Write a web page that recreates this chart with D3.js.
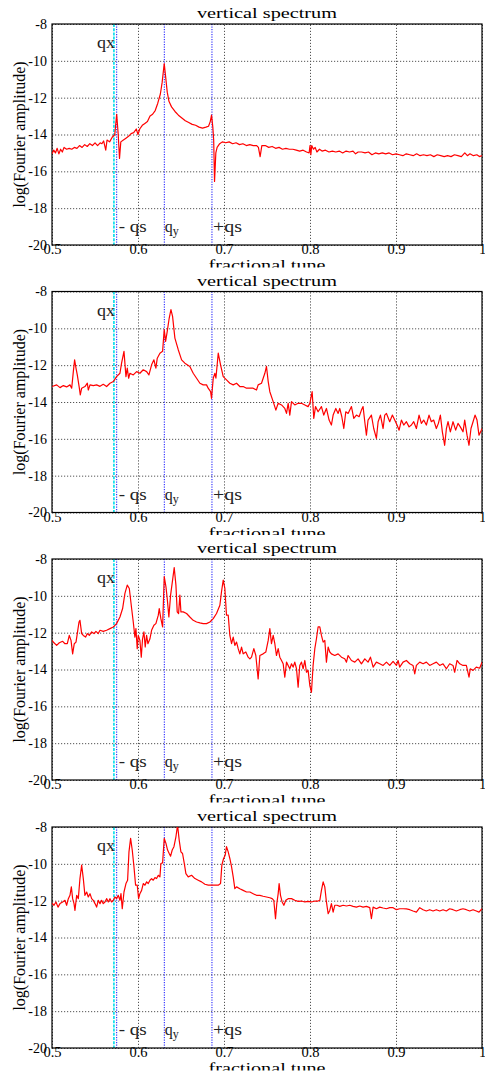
<!DOCTYPE html>
<html lang="en">
<head>
  <meta charset="UTF-8">
  <title>vertical spectrum</title>
  <style>
    body { margin: 0; background: #ffffff; }
    svg { display: block; font-family: "Liberation Serif", "DejaVu Serif", serif; }
    .grid line { stroke: #555; stroke-dasharray: 1.2,1.8; stroke-width: 1; }
    .grid .domain { display: none; }
    .grid text { fill: #000; }
  </style>
</head>
<body>
  <div id="chart"></div>

  <script src="https://d3js.org/d3.v7.min.js"></script>
  <script>
    // tick labels and marker tunes
    const tuneTicks = [0.5, 0.6, 0.7, 0.8, 0.9, 1.0];
    const ampTicks = [-20, -18, -16, -14, -12, -10, -8];
    const qxTune = 0.572;
    const lineTunes = [0.5752, 0.6306, 0.686];   // -qs, qy, +qs

    // [fractional tune, log(Fourier amplitude)]
    const spectrum1 = [
      [0.500,-15.05],[0.502,-14.85],[0.504,-15.0],[0.506,-14.75],[0.508,-15.05],[0.510,-14.8],[0.512,-14.95],
      [0.514,-14.7],[0.517,-14.8],[0.520,-14.75],[0.523,-14.8],[0.526,-14.7],[0.529,-14.75],[0.532,-14.6],
      [0.535,-14.7],[0.538,-14.55],[0.541,-14.65],[0.544,-14.5],[0.547,-14.6],[0.550,-14.45],[0.553,-14.6],
      [0.556,-14.45],[0.558,-14.5],[0.560,-14.35],[0.5625,-14.85],[0.564,-14.3],[0.567,-14.4],[0.570,-14.15],
      [0.573,-14.0],[0.5752,-12.9],[0.577,-14.0],[0.5785,-15.3],[0.580,-14.4],[0.583,-14.3],[0.586,-14.2],
      [0.589,-14.1],[0.592,-13.95],[0.595,-13.9],[0.598,-13.7],[0.600,-14.0],[0.602,-13.7],[0.605,-13.5],
      [0.608,-13.4],[0.611,-13.3],[0.614,-13.0],[0.617,-12.9],[0.620,-12.7],[0.623,-12.3],[0.626,-11.8],
      [0.628,-11.2],[0.6305,-10.15],[0.632,-10.8],[0.634,-11.7],[0.636,-12.2],[0.639,-12.5],[0.643,-12.75],
      [0.647,-12.95],[0.651,-13.1],[0.655,-13.25],[0.659,-13.35],[0.663,-13.45],[0.667,-13.5],[0.671,-13.6],
      [0.675,-13.65],[0.679,-13.6],[0.682,-13.55],[0.684,-13.3],[0.6855,-12.95],[0.687,-13.6],[0.688,-14.3],
      [0.689,-16.55],[0.6905,-15.0],[0.692,-14.7],[0.695,-14.5],[0.698,-14.4],[0.702,-14.45],[0.706,-14.4],
      [0.710,-14.5],[0.714,-14.45],[0.718,-14.55],[0.722,-14.5],[0.726,-14.6],[0.730,-14.55],[0.734,-14.6],
      [0.738,-14.6],[0.740,-14.7],[0.742,-15.2],[0.744,-14.6],[0.748,-14.6],[0.752,-14.7],[0.756,-14.65],
      [0.760,-14.75],[0.764,-14.7],[0.768,-14.8],[0.772,-14.75],[0.776,-14.8],[0.780,-14.8],[0.784,-14.85],
      [0.788,-14.9],[0.792,-14.85],[0.796,-14.95],[0.799,-15.0],[0.800,-14.6],[0.801,-15.1],[0.802,-14.6],
      [0.804,-14.8],[0.806,-14.7],[0.808,-14.95],[0.811,-14.8],[0.814,-14.9],[0.818,-14.85],[0.822,-14.95],
      [0.826,-14.9],[0.830,-14.95],[0.834,-14.9],[0.838,-15.0],[0.842,-14.9],[0.846,-14.95],[0.850,-14.9],
      [0.853,-15.05],[0.856,-14.95],[0.860,-14.95],[0.864,-15.0],[0.868,-14.95],[0.872,-15.1],[0.876,-15.0],
      [0.880,-15.05],[0.884,-15.0],[0.888,-15.05],[0.892,-15.0],[0.896,-15.1],[0.900,-15.05],[0.904,-15.1],
      [0.908,-15.15],[0.912,-15.05],[0.916,-15.1],[0.920,-15.15],[0.924,-15.05],[0.928,-15.15],[0.932,-15.1],
      [0.936,-15.15],[0.940,-15.1],[0.944,-15.2],[0.948,-15.1],[0.952,-15.15],[0.956,-15.2],[0.960,-15.15],
      [0.964,-15.2],[0.968,-15.1],[0.972,-15.15],[0.976,-15.2],[0.980,-15.0],[0.983,-15.15],[0.986,-15.05],
      [0.990,-15.15],[0.994,-15.1],[0.997,-15.2],[1.000,-15.15]
    ];

    const spectrum2 = [
      [0.500,-13.16],[0.5054,-13.07],[0.5093,-13.22],[0.5132,-13.11],[0.5170,-13.18],[0.5209,-13.07],[0.5229,-13.25],
      [0.5248,-12.35],[0.5263,-11.71],[0.5279,-12.16],[0.5294,-12.53],[0.5318,-13.25],[0.5329,-13.62],[0.5345,-13.25],
      [0.5383,-13.16],[0.5411,-12.98],[0.5422,-13.35],[0.5442,-13.07],[0.5480,-13.11],[0.5519,-13.07],[0.5558,-13.15],
      [0.5596,-13.04],[0.5635,-13.16],[0.5674,-12.98],[0.5713,-12.89],[0.5751,-12.62],[0.5790,-12.44],[0.5809,-11.89],
      [0.5837,-11.25],[0.5860,-12.62],[0.5875,-12.16],[0.5891,-12.71],[0.5906,-12.44],[0.5945,-12.53],[0.5984,-12.35],
      [0.6022,-12.44],[0.6061,-12.25],[0.6100,-12.35],[0.6127,-12.53],[0.6158,-11.98],[0.6185,-11.71],[0.6208,-12.16],
      [0.6224,-11.62],[0.6255,-11.35],[0.6286,-11.25],[0.6305,-10.07],[0.6321,-10.71],[0.6340,-10.16],[0.6363,-9.44],
      [0.6383,-8.98],[0.6402,-9.35],[0.6429,-10.53],[0.6468,-11.16],[0.6507,-11.71],[0.6545,-11.89],[0.6603,-12.07],
      [0.6642,-12.44],[0.6681,-12.71],[0.6720,-12.98],[0.6758,-13.07],[0.6797,-13.07],[0.6816,-13.25],[0.6844,-13.44],
      [0.6855,-13.8],[0.6875,-12.71],[0.6894,-12.44],[0.6906,-12.71],[0.6933,-11.35],[0.6960,-11.98],[0.6991,-12.62],
      [0.7029,-12.8],[0.7068,-12.98],[0.7107,-13.07],[0.7146,-12.98],[0.7184,-13.16],[0.7223,-13.16],[0.7262,-13.25],
      [0.7301,-13.25],[0.7339,-13.25],[0.7378,-13.35],[0.7397,-13.07],[0.7436,-12.98],[0.7475,-12.44],[0.7494,-12.07],
      [0.7514,-12.89],[0.7533,-13.44],[0.7572,-13.98],[0.7603,-14.44],[0.7630,-14.07],[0.7669,-14.16],[0.7707,-14.35],
      [0.7727,-14.62],[0.7746,-14.07],[0.7765,-14.71],[0.7785,-13.98],[0.7823,-14.16],[0.7862,-14.07],[0.7901,-14.07],
      [0.7940,-14.16],[0.7978,-14.25],[0.7998,-14.07],[0.8025,-13.44],[0.8044,-14.89],[0.8064,-14.25],[0.8094,-14.53],
      [0.8133,-14.25],[0.8160,-14.71],[0.8191,-14.35],[0.8222,-14.98],[0.8249,-15.25],[0.8269,-14.71],[0.8300,-14.35],
      [0.8327,-14.62],[0.8346,-14.35],[0.8370,-14.8],[0.8393,-15.44],[0.8416,-14.53],[0.8443,-14.62],[0.8482,-14.25],
      [0.8509,-14.89],[0.8540,-14.71],[0.8571,-14.8],[0.8598,-14.44],[0.8617,-14.25],[0.8637,-15.07],[0.8656,-15.8],
      [0.8675,-14.98],[0.8714,-14.71],[0.8741,-15.44],[0.8772,-15.98],[0.8792,-15.07],[0.8819,-14.71],[0.8850,-15.44],
      [0.8869,-14.71],[0.8889,-14.62],[0.8927,-15.07],[0.8958,-14.71],[0.8985,-14.98],[0.9012,-15.25],[0.9036,-15.53],
      [0.9063,-14.98],[0.9090,-15.25],[0.9121,-15.07],[0.9152,-15.35],[0.9179,-15.25],[0.9206,-15.07],[0.9237,-15.44],
      [0.9268,-14.71],[0.9295,-15.16],[0.9322,-14.98],[0.9353,-15.25],[0.9384,-14.71],[0.9411,-15.07],[0.9438,-14.98],
      [0.9469,-15.44],[0.9493,-15.16],[0.9516,-14.71],[0.9539,-15.62],[0.9566,-16.35],[0.9586,-15.44],[0.9605,-15.07],
      [0.9632,-15.62],[0.9663,-15.07],[0.9694,-15.53],[0.9721,-15.16],[0.9748,-15.35],[0.9779,-15.62],[0.9799,-14.98],
      [0.9826,-15.8],[0.9849,-16.35],[0.9872,-15.44],[0.9896,-15.07],[0.9919,-14.71],[0.9942,-14.98],[0.9965,-15.8],
      [0.9992,-15.53],[1.000,-15.44]
    ];

    const spectrum3 = [
      [0.500,-12.42],[0.5023,-12.55],[0.5054,-12.69],[0.5085,-12.55],[0.5124,-12.47],[0.5151,-12.6],[0.5178,-12.6],
      [0.5201,-12.15],[0.5221,-12.42],[0.5240,-13.15],[0.5259,-12.6],[0.5279,-12.51],[0.5294,-12.05],[0.5314,-11.42],
      [0.5325,-11.33],[0.5345,-12.05],[0.5364,-12.15],[0.5391,-12.24],[0.5411,-12.05],[0.5434,-12.15],[0.5461,-11.96],
      [0.5488,-12.05],[0.5511,-11.93],[0.5538,-12.05],[0.5558,-11.87],[0.5596,-11.93],[0.5635,-11.87],[0.5674,-11.78],
      [0.5713,-11.69],[0.5751,-11.51],[0.5790,-11.15],[0.5821,-10.69],[0.5848,-9.87],[0.5875,-9.42],[0.5899,-9.6],
      [0.5926,-10.69],[0.5945,-11.42],[0.5964,-12.24],[0.5976,-11.78],[0.5991,-12.87],[0.6003,-12.15],[0.6022,-12.42],
      [0.6038,-13.33],[0.6053,-12.33],[0.6069,-11.96],[0.6084,-12.78],[0.6100,-12.15],[0.6115,-12.6],[0.6139,-12.33],
      [0.6158,-11.87],[0.6185,-11.6],[0.6208,-11.51],[0.6236,-11.05],[0.6247,-10.69],[0.6266,-11.24],[0.6286,-11.69],
      [0.6305,-8.96],[0.6325,-9.51],[0.6340,-10.15],[0.6359,-11.15],[0.6379,-9.96],[0.6402,-9.15],[0.6421,-8.47],
      [0.6441,-9.42],[0.6456,-10.87],[0.6472,-10.96],[0.6487,-9.96],[0.6499,-10.87],[0.6526,-10.87],[0.6565,-10.96],
      [0.6603,-11.15],[0.6642,-11.33],[0.6681,-11.42],[0.6720,-11.47],[0.6758,-11.51],[0.6797,-11.51],[0.6836,-11.42],
      [0.6875,-11.24],[0.6913,-10.96],[0.6952,-10.51],[0.6971,-9.78],[0.6991,-9.15],[0.7010,-9.6],[0.7029,-11.05],
      [0.7049,-11.05],[0.7068,-12.15],[0.7088,-12.6],[0.7107,-12.24],[0.7126,-12.69],[0.7146,-12.51],[0.7165,-12.87],
      [0.7184,-13.15],[0.7204,-12.78],[0.7223,-13.15],[0.7254,-13.05],[0.7281,-13.33],[0.7301,-13.42],[0.7320,-13.33],
      [0.7347,-12.87],[0.7370,-13.24],[0.7397,-14.51],[0.7417,-13.24],[0.7455,-13.15],[0.7486,-13.05],[0.7514,-12.42],
      [0.7533,-11.78],[0.7552,-12.6],[0.7572,-12.15],[0.7591,-12.6],[0.7610,-13.24],[0.7630,-12.87],[0.7649,-13.33],
      [0.7669,-13.51],[0.7688,-13.69],[0.7707,-14.42],[0.7727,-13.6],[0.7746,-13.78],[0.7765,-13.96],[0.7785,-13.69],
      [0.7804,-13.87],[0.7823,-13.6],[0.7843,-13.96],[0.7862,-14.96],[0.7881,-13.78],[0.7901,-13.6],[0.7920,-13.96],
      [0.7940,-13.51],[0.7959,-14.15],[0.7978,-14.05],[0.7998,-14.87],[0.8017,-15.24],[0.8036,-13.78],[0.8056,-12.87],
      [0.8075,-12.33],[0.8094,-11.69],[0.8114,-11.69],[0.8133,-12.15],[0.8153,-12.51],[0.8172,-12.42],[0.8191,-13.6],
      [0.8211,-12.78],[0.8230,-13.05],[0.8249,-13.15],[0.8288,-13.24],[0.8327,-13.15],[0.8366,-13.33],[0.8404,-13.42],
      [0.8424,-13.6],[0.8443,-13.24],[0.8482,-13.51],[0.8521,-13.6],[0.8559,-13.42],[0.8598,-13.69],[0.8637,-13.42],
      [0.8675,-13.6],[0.8703,-13.33],[0.8734,-13.87],[0.8772,-13.6],[0.8811,-13.69],[0.8850,-13.78],[0.8889,-13.6],
      [0.8927,-13.78],[0.8966,-13.56],[0.9005,-13.78],[0.9024,-13.51],[0.9043,-13.87],[0.9082,-13.6],[0.9121,-13.51],
      [0.9160,-13.69],[0.9198,-13.78],[0.9218,-14.24],[0.9237,-13.78],[0.9276,-13.6],[0.9315,-13.69],[0.9353,-13.6],
      [0.9392,-13.78],[0.9431,-13.69],[0.9469,-13.6],[0.9508,-13.78],[0.9547,-13.69],[0.9586,-13.96],[0.9624,-13.69],
      [0.9663,-13.78],[0.9682,-14.15],[0.9710,-13.51],[0.9741,-13.69],[0.9779,-13.78],[0.9818,-13.78],[0.9849,-14.42],
      [0.9864,-13.96],[0.9896,-14.05],[0.9934,-13.87],[0.9973,-13.93],[1.000,-13.6]
    ];

    const spectrum4 = [
      [0.500,-12.13],[0.5023,-12.25],[0.5046,-12.07],[0.5070,-12.35],[0.5093,-12.16],[0.5124,-12.07],[0.5151,-11.98],
      [0.5170,-12.25],[0.5190,-11.89],[0.5209,-11.71],[0.5225,-11.25],[0.5240,-11.89],[0.5256,-12.16],[0.5267,-12.53],
      [0.5287,-11.71],[0.5306,-11.89],[0.5325,-10.8],[0.5345,-10.07],[0.5364,-10.8],[0.5383,-11.71],[0.5403,-11.53],
      [0.5422,-11.8],[0.5442,-11.62],[0.5461,-11.89],[0.5480,-11.98],[0.5500,-12.16],[0.5519,-12.35],[0.5538,-11.98],
      [0.5558,-12.16],[0.5577,-11.98],[0.5596,-12.16],[0.5616,-12.07],[0.5635,-11.89],[0.5655,-12.07],[0.5674,-11.89],
      [0.5693,-12.07],[0.5713,-11.98],[0.5732,-11.8],[0.5751,-11.89],[0.5771,-11.71],[0.5790,-11.98],[0.5802,-11.62],
      [0.5817,-12.44],[0.5837,-11.53],[0.5860,-11.07],[0.5879,-10.89],[0.5895,-9.35],[0.5914,-8.62],[0.5933,-9.25],
      [0.5953,-10.16],[0.5972,-11.16],[0.5991,-11.16],[0.6007,-11.89],[0.6022,-11.62],[0.6042,-11.44],[0.6061,-11.07],
      [0.6081,-11.16],[0.6100,-10.98],[0.6119,-11.07],[0.6139,-10.89],[0.6158,-10.8],[0.6177,-10.89],[0.6197,-10.75],
      [0.6216,-10.8],[0.6236,-10.62],[0.6255,-10.71],[0.6266,-9.98],[0.6286,-9.95],[0.6305,-8.62],[0.6325,-8.89],
      [0.6344,-9.25],[0.6363,-9.44],[0.6379,-9.58],[0.6398,-9.25],[0.6418,-9.07],[0.6441,-8.53],[0.6460,-7.9],
      [0.6479,-8.71],[0.6499,-9.35],[0.6518,-9.44],[0.6538,-9.98],[0.6557,-10.53],[0.6584,-10.71],[0.6623,-10.62],
      [0.6662,-10.8],[0.6700,-10.89],[0.6739,-10.98],[0.6778,-11.11],[0.6816,-11.16],[0.6855,-11.16],[0.6894,-11.16],
      [0.6933,-11.16],[0.6960,-11.07],[0.6975,-10.07],[0.6995,-9.71],[0.7014,-9.53],[0.7029,-9.07],[0.7049,-9.35],
      [0.7068,-9.71],[0.7088,-10.16],[0.7107,-10.71],[0.7126,-11.35],[0.7146,-11.25],[0.7184,-11.35],[0.7223,-11.44],
      [0.7262,-11.53],[0.7301,-11.53],[0.7339,-11.62],[0.7378,-11.71],[0.7417,-11.71],[0.7455,-11.76],[0.7494,-11.8],
      [0.7533,-11.84],[0.7560,-11.89],[0.7579,-11.98],[0.7599,-12.98],[0.7614,-12.16],[0.7630,-11.62],[0.7641,-11.07],
      [0.7657,-11.71],[0.7676,-12.07],[0.7696,-12.25],[0.7719,-11.98],[0.7746,-11.89],[0.7785,-11.89],[0.7823,-11.98],
      [0.7862,-12.04],[0.7901,-12.02],[0.7940,-12.07],[0.7978,-12.04],[0.8017,-12.07],[0.8056,-12.02],[0.8094,-12.02],
      [0.8114,-11.98],[0.8133,-11.44],[0.8153,-10.98],[0.8172,-11.25],[0.8191,-12.07],[0.8211,-12.71],[0.8230,-12.53],
      [0.8249,-12.16],[0.8269,-12.62],[0.8288,-12.25],[0.8315,-12.25],[0.8346,-12.31],[0.8385,-12.25],[0.8424,-12.29],
      [0.8462,-12.25],[0.8501,-12.31],[0.8540,-12.35],[0.8579,-12.29],[0.8617,-12.35],[0.8656,-12.31],[0.8695,-12.38],
      [0.8714,-12.98],[0.8734,-12.35],[0.8772,-12.44],[0.8811,-12.35],[0.8850,-12.4],[0.8889,-12.44],[0.8927,-12.38],
      [0.8966,-12.38],[0.9005,-12.49],[0.9043,-12.44],[0.9082,-12.44],[0.9121,-12.45],[0.9160,-12.49],[0.9198,-12.56],
      [0.9237,-12.62],[0.9276,-12.38],[0.9315,-12.49],[0.9353,-12.56],[0.9392,-12.49],[0.9431,-12.56],[0.9469,-12.49],
      [0.9508,-12.56],[0.9547,-12.49],[0.9586,-12.56],[0.9624,-12.44],[0.9663,-12.49],[0.9702,-12.56],[0.9741,-12.49],
      [0.9779,-12.44],[0.9818,-12.49],[0.9857,-12.56],[0.9896,-12.49],[0.9934,-12.56],[0.9965,-12.62],[1.000,-12.44]
    ];

    const spectra = [spectrum1, spectrum2, spectrum3, spectrum4];
    const panelTops = [0, 267.5, 535, 803];

    const width = 485, height = 1074;
    const plotLeft = 52, plotRight = 482, plotTop = 24, plotBottom = 245;
    const panelHeight = 267.5;

    const x = d3.scaleLinear().domain([0.5, 1]).range([plotLeft, plotRight]);
    const y = d3.scaleLinear().domain([-20, -8]).range([plotBottom, plotTop]);

    const line = d3.line().x(d => x(d[0])).y(d => y(d[1]));

    const svg = d3.select("#chart").append("svg")
      .attr("width", width)
      .attr("height", height);

    const defs = svg.append("defs");
    defs.append("clipPath").attr("id", "panel-clip")
      .append("rect").attr("x", 0).attr("y", 0).attr("width", width).attr("height", panelHeight);
    defs.append("clipPath").attr("id", "plot-clip")
      .append("rect").attr("x", plotLeft).attr("y", plotTop)
      .attr("width", plotRight - plotLeft).attr("height", plotBottom - plotTop);

    spectra.forEach((data, i) => {
      const outer = svg.append("g").attr("transform", `translate(0,${panelTops[i]})`);
      const g = outer.append("g").attr("clip-path", "url(#panel-clip)");

      // grid + tick labels
      g.append("g").attr("class", "grid")
        .attr("transform", `translate(0,${plotBottom})`)
        .call(d3.axisBottom(x).tickValues(tuneTicks).tickSize(-(plotBottom - plotTop)).tickPadding(-1)
          .tickFormat(d => d === 1 ? "1" : d.toFixed(1)))
        .call(s => s.selectAll("text").attr("font-size", 14.5).attr("font-family", "Liberation Serif"));

      g.append("g").attr("class", "grid")
        .attr("transform", `translate(${plotLeft},0)`)
        .call(d3.axisLeft(y).tickValues(ampTicks).tickSize(-(plotRight - plotLeft)).tickPadding(5)
          .tickFormat(d => String(d)))
        .call(s => s.selectAll("text").attr("font-size", 14).attr("font-family", "Liberation Serif"));

      // qx line (cyan) and sideband lines (blue)
      g.append("line")
        .attr("x1", x(qxTune)).attr("x2", x(qxTune))
        .attr("y1", plotTop).attr("y2", plotBottom)
        .attr("stroke", "#00dcea").attr("stroke-width", 1.6).attr("stroke-dasharray", "3,1.2");

      g.selectAll(".qline").data(lineTunes).enter().append("line")
        .attr("class", "qline")
        .attr("x1", d => x(d)).attr("x2", d => x(d))
        .attr("y1", plotTop).attr("y2", plotBottom)
        .attr("stroke", "#1010ff").attr("stroke-width", 1).attr("stroke-dasharray", "1.2,1.3");

      // frame
      g.append("rect")
        .attr("x", plotLeft).attr("y", plotTop)
        .attr("width", plotRight - plotLeft).attr("height", plotBottom - plotTop)
        .attr("fill", "none").attr("stroke", "#000").attr("stroke-width", 1.2);

      // spectrum
      g.append("path")
        .datum(data)
        .attr("clip-path", "url(#plot-clip)")
        .attr("fill", "none")
        .attr("stroke", "#ff0000")
        .attr("stroke-width", 1.2)
        .attr("stroke-linejoin", "round")
        .attr("d", line);

      // annotations
      const ann = g.append("g").attr("font-size", 16).attr("fill", "#222");
      ann.append("text").attr("x", x(qxTune) + 1).attr("y", plotTop + 24)
        .attr("text-anchor", "end").attr("textLength", 18).attr("lengthAdjust", "spacingAndGlyphs").text("qx");
      ann.append("text").attr("x", x(lineTunes[0]) + 2).attr("y", plotBottom - 13)
        .attr("textLength", 28).attr("lengthAdjust", "spacingAndGlyphs").text("- qs");
      const qy = ann.append("text").attr("x", x(lineTunes[1]) + 0.5).attr("y", plotBottom - 13);
      qy.append("tspan").text("q");
      qy.append("tspan").attr("dy", 3).attr("font-size", 12).text("y");
      ann.append("text").attr("x", x(lineTunes[2]) + 1).attr("y", plotBottom - 13)
        .attr("textLength", 29).attr("lengthAdjust", "spacingAndGlyphs").text("+qs");

      // titles
      g.append("text")
        .attr("x", (plotLeft + plotRight) / 2).attr("y", 18)
        .attr("text-anchor", "middle").attr("font-size", 15)
        .attr("textLength", 140).attr("lengthAdjust", "spacingAndGlyphs")
        .text("vertical spectrum");

      g.append("text")
        .attr("x", (plotLeft + plotRight) / 2).attr("y", 270)
        .attr("text-anchor", "middle").attr("font-size", 15)
        .attr("textLength", 117).attr("lengthAdjust", "spacingAndGlyphs")
        .text("fractional tune");

      g.append("text")
        .attr("transform", "rotate(-90)")
        .attr("x", -(plotTop + plotBottom) / 2).attr("y", 25)
        .attr("text-anchor", "middle").attr("font-size", 16)
        .text("log(Fourier amplitude)");
    });
  </script>
</body>
</html>
